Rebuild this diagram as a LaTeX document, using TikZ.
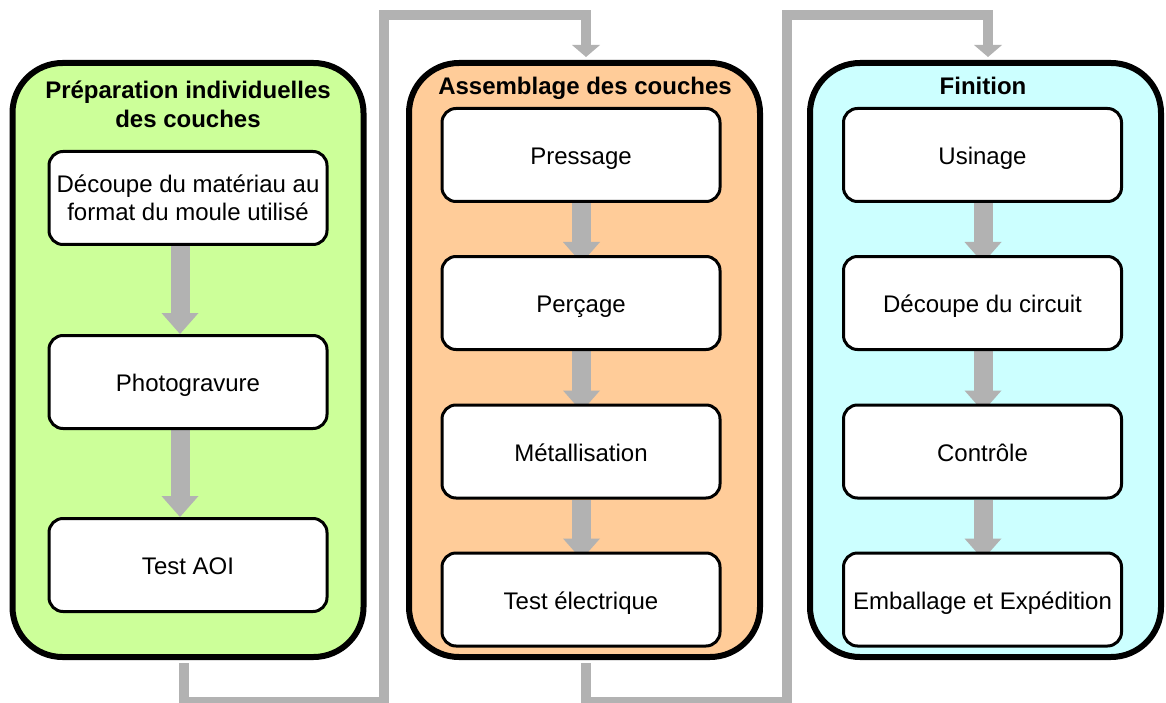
\documentclass[tikz,border=0pt]{standalone}
\usepackage{fontspec}
\setmainfont{Liberation Sans}
\usetikzlibrary{arrows.meta}

\pgfdeclarelayer{back}
\pgfdeclarelayer{mid}
\pgfsetlayers{back,mid,main}

\begin{document}
\begin{tikzpicture}[x=1pt,y=-1pt]

    % Colors: one fill per phase, grey for the flow arrows
    \definecolor{colorPrep}{HTML}{CCFF99}
    \definecolor{colorAssem}{HTML}{FFCC99}
    \definecolor{colorFin}{HTML}{CCFFFF}
    \definecolor{colorFlow}{HTML}{B2B2B2}

    % Canvas: 1166 x 703 (1 unit = 1pt, y grows downwards)
    \useasboundingbox (0,0) rectangle (1166,703);

    % Styles
    \tikzset{
        phase/.style={draw=black, line width=6pt, rounded corners=50pt,
            minimum width=351pt, minimum height=594pt, inner sep=0pt},
        sbox/.style={draw=black, line width=3pt, fill=white, rounded corners=14pt,
            minimum width=278pt, minimum height=93pt, align=center, inner sep=0pt,
            text height=21pt, text depth=2pt,
            font=\fontsize{24pt}{28pt}\selectfont},
        ptitle/.style={align=center, font=\bfseries\fontsize{24pt}{29pt}\selectfont},
        flow/.style={draw=colorFlow, line width=19pt,
            -{Triangle[width=37pt,length=21pt,line width=0pt]}},
        link/.style={draw=colorFlow, line width=10pt,
            -{Triangle[width=28pt,length=12pt,line width=0pt]}}
    }

    % Column x-positions of the three phases
    \def\xa{188}
    \def\xb{584.5}
    \def\xc{985.5}

    % --- Phase panels (outer edges: y 60..660) ---
    \begin{pgfonlayer}{back}
    \node[phase, fill=colorPrep]  (prep)  at (\xa,360) {};
    \node[phase, fill=colorAssem] (assem) at (\xb,360) {};
    \node[phase, fill=colorFin]   (fin)   at (\xc,360) {};
    \end{pgfonlayer}

    % --- Titles ---
    \node[ptitle] (tprep)  at (188,104.5) {Préparation individuelles\\des couches};
    \node[ptitle, text height=21pt, text depth=2pt] (tassem) at (585,85) {Assemblage des couches};
    \node[ptitle, text height=21pt, text depth=2pt] (tfin)   at (983,85) {Finition};

    % --- Préparation (x = 188) ---
    \node[sbox, text height=, text depth=] (p1) at (188,198)
        {Découpe du matériau au\\format du moule utilisé};
    \node[sbox] (p2) at (188,382) {Photogravure};
    \node[sbox] (p3) at (188,565) {Test AOI};

    % --- Assemblage (x = 581) ---
    \node[sbox] (a1) at (581,155)   {Pressage};
    \node[sbox] (a2) at (581,303)   {Perçage};
    \node[sbox] (a3) at (581,451.5) {Métallisation};
    \node[sbox] (a4) at (581,599.5) {Test électrique};

    % --- Finition (x = 982.5) ---
    \node[sbox] (f1) at (982.5,155)   {Usinage};
    \node[sbox] (f2) at (982.5,303)   {Découpe du circuit};
    \node[sbox] (f3) at (982.5,451.5) {Contrôle};
    \node[sbox] (f4) at (982.5,599.5) {Emballage et Expédition};

    % --- Arrows inside the phases (behind the boxes) ---
    \begin{pgfonlayer}{mid}
    \draw[flow] ([xshift=-8pt]p1.south) -- ([xshift=-8pt]p2.north);
    \draw[flow] ([xshift=-8pt]p2.south) -- ([xshift=-8pt]p3.north);
    \foreach \s/\t in {a1/a2, a2/a3, a3/a4, f1/f2, f2/f3, f3/f4}
        \draw[flow, shorten >=-8pt] ([xshift=0.5pt]\s.south) -- ([xshift=0.5pt]\t.north);
    \end{pgfonlayer}

    % --- Links between the phases ---
    \draw[link] ([xshift=-4.5pt,yshift=-3pt]prep.south) |- (384,702)
        -- (384,15.5) -| ([xshift=1.5pt,yshift=3pt]assem.north);
    \draw[link] ([xshift=1.5pt,yshift=-3pt]assem.south) |- (787,702)
        -- (787,15.5) -| ([xshift=2.5pt,yshift=3pt]fin.north);

\end{tikzpicture}
\end{document}
